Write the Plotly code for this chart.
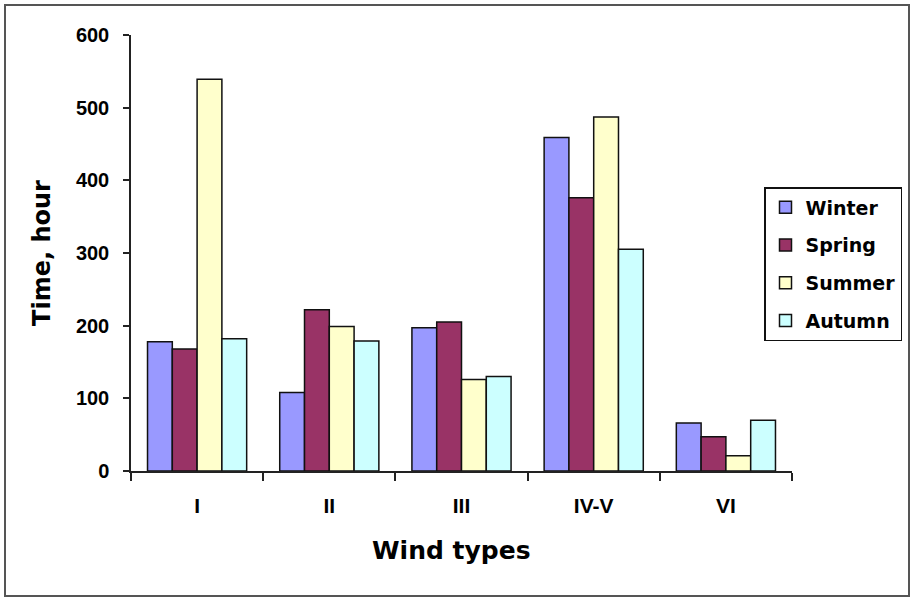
import plotly.graph_objects as go

categories = ["I", "II", "III", "IV-V", "VI"]
winter = [178, 108, 197, 459, 66]
spring = [168, 222, 205, 376, 47]
summer = [539, 199, 126, 487, 21]
autumn = [182, 179, 130, 305, 70]

series = [
    ("Winter", winter, "#9999FF"),
    ("Spring", spring, "#993366"),
    ("Summer", summer, "#FFFFCC"),
    ("Autumn", autumn, "#CCFFFF"),
]

FONT = "Liberation Sans, Arial, sans-serif"
WIDE = "DejaVu Sans, Verdana, sans-serif"

fig = go.Figure()
for name, vals, col in series:
    fig.add_trace(go.Bar(
        x=categories, y=vals, name=name, legendgroup=name,
        marker=dict(color=col, line=dict(color="#111111", width=1.5)),
    ))

W, H = 912, 599
L, R, T, B = 131, 792, 35, 471

def px(x):
    return (x - L) / (R - L)

def py(y):
    return (B - y) / (B - T)

fig.update_layout(
    width=W, height=H,
    margin=dict(l=L, r=W - R, t=T, b=H - B, autoexpand=False),
    paper_bgcolor="white", plot_bgcolor="white",
    barmode="group", bargap=0.25, bargroupgap=0,
    font=dict(family=FONT, color="black"),
    showlegend=True,
    legend=dict(
        x=px(764), y=py(187), xanchor="left", yanchor="top",
        bgcolor="white", bordercolor="#111111", borderwidth=1.5,
        font=dict(family=WIDE, size=19, weight="bold", color="black"),
        tracegroupgap=10, traceorder="grouped",
    ),
    xaxis=dict(
        showline=True, linecolor="#222222", linewidth=1.5,
        ticks="outside", ticklen=8, tickcolor="#222222", tickwidth=1.5,
        tickson="boundaries", ticklabelstandoff=15,
        tickfont=dict(family=FONT, size=21, weight="bold", color="black"),
        showgrid=False, zeroline=False,
    ),
    yaxis=dict(
        range=[0, 600], tickvals=[0, 100, 200, 300, 400, 500, 600],
        showline=True, linecolor="#222222", linewidth=1.5,
        ticks="outside", ticklen=6, tickcolor="#222222", tickwidth=1.5,
        ticklabelstandoff=10,
        tickfont=dict(family=FONT, size=20, weight="bold", color="black"),
        showgrid=False, zeroline=False,
        title=dict(text="Time, hour", standoff=18,
                   font=dict(family=WIDE, size=24, weight="bold", color="black")),
    ),
    annotations=[dict(
        text="Wind types", x=px(451), y=py(550), xref="paper", yref="paper",
        showarrow=False, xanchor="center", yanchor="middle",
        font=dict(family=WIDE, size=25, weight="bold", color="black"),
    )],
    shapes=[dict(
        type="rect", xref="paper", yref="paper",
        x0=px(5), x1=px(909), y0=py(596), y1=py(5),
        line=dict(color="#555555", width=2), layer="below",
    )],
)

fig.write_html("out.html")
